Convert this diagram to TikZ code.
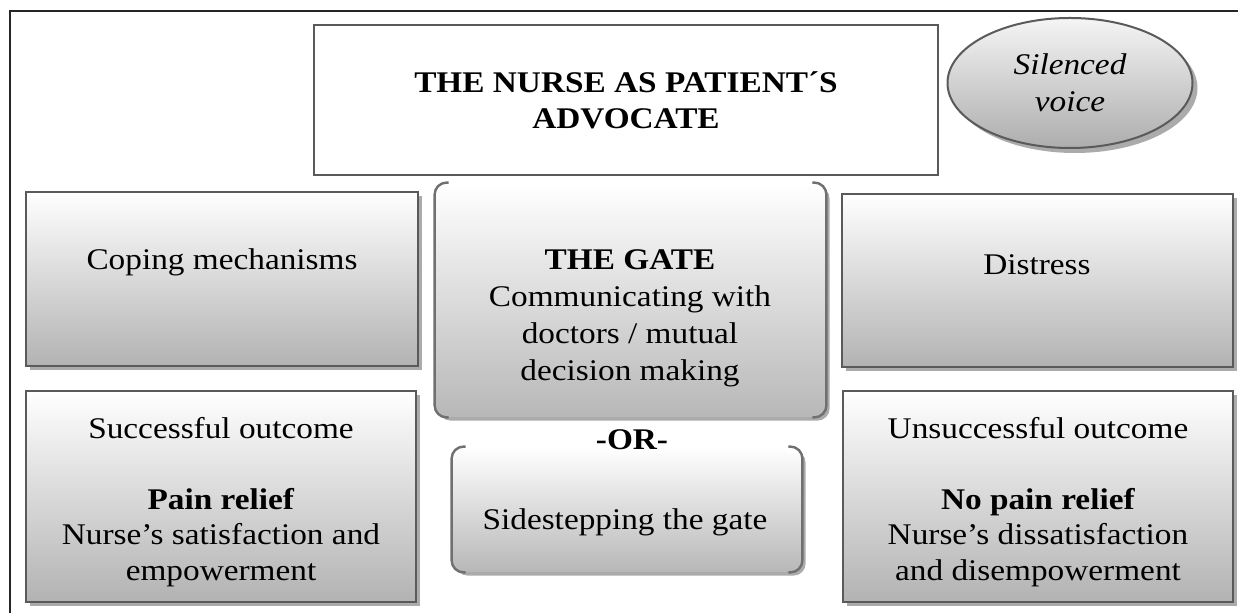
\documentclass[tikz,border=0pt]{standalone}
\usepackage{fontspec}
\setmainfont[FakeStretch=1.11]{Liberation Serif}
\usetikzlibrary{shadows,shapes.geometric,calc}
\definecolor{edgec}{HTML}{5A5A5A}
\definecolor{shdc}{HTML}{ABABAB}
\definecolor{brk}{HTML}{707070}
\begin{document}
\begin{tikzpicture}[x=0.5pt,y=-0.5pt,
  txt/.style={font=\fontsize{15pt}{17.75pt}\selectfont, align=center, inner sep=0pt},
  gbox/.style={draw=edgec, line width=1pt, top color=white, bottom color=black!30,
    drop shadow={shadow xshift=2pt,shadow yshift=-2pt,fill=shdc,opacity=1}, inner sep=0pt},
  gatebox/.style={rounded corners=6pt, top color=white, bottom color=black!28,
    drop shadow={shadow xshift=1.8pt,shadow yshift=-1.8pt,fill=shdc,opacity=1}, inner sep=0pt},
  bracket/.style={draw=brk, line width=1.2pt, rounded corners=6pt},
  titlebox/.style={draw=edgec, line width=1pt, fill=white, inner sep=0pt},
  oval/.style={ellipse, draw=edgec, line width=1pt, top color=black!4, bottom color=black!32,
    drop shadow={shadow xshift=2.5pt,shadow yshift=-2.5pt,fill=shdc,opacity=1}, inner sep=0pt},
  frame/.style={draw=black!85, line width=1pt}]
\useasboundingbox (0,0) rectangle (1238,613);
\draw[frame] (10,613) -- (10,11) -- (1238,11);

% boxes
\node[titlebox, minimum width=312pt, minimum height=75pt] (title) at (626,100) {};
\node[oval, minimum width=122.5pt, minimum height=65pt] (voice) at (1070,83) {};
\node[gbox, minimum width=196pt, minimum height=87pt] (cope) at (222,279) {};
\node[gbox, minimum width=195.5pt, minimum height=86.5pt] (dist) at (1037.5,280.5) {};
\node[gbox, minimum width=195pt, minimum height=105.5pt] (succ) at (221,496.5) {};
\node[gbox, minimum width=195pt, minimum height=105.5pt] (unsucc) at (1038,496.5) {};
\node[gatebox, minimum width=195.5pt, minimum height=117pt] (gate) at (630.5,300) {};
\node[gatebox, minimum width=175pt, minimum height=62.5pt] (side) at (627,509.5) {};

% gate brackets
\draw[bracket] ($(gate.north west)+(14,0)$) -- (gate.north west) -- (gate.south west) -- ($(gate.south west)+(14,0)$);
\draw[bracket] ($(gate.north east)+(-14,0)$) -- (gate.north east) -- (gate.south east) -- ($(gate.south east)+(-14,0)$);
\draw[bracket] ($(side.north west)+(14,0)$) -- (side.north west) -- (side.south west) -- ($(side.south west)+(14,0)$);
\draw[bracket] ($(side.north east)+(-14,0)$) -- (side.north east) -- (side.south east) -- ($(side.south east)+(-14,0)$);

% texts
\node[txt, font=\fontsize{15pt}{18pt}\selectfont\bfseries] (ttitle) at (626,100) {THE NURSE AS PATIENT´S\\ADVOCATE};
\node[txt, font=\fontsize{15pt}{18.5pt}\selectfont\itshape] (tvoice) at (1070,83) {Silenced\\voice};
\node[txt] (tcope) at (222,262) {Coping mechanisms};
\node[txt] (tdist) at (1037,265) {Distress};
\node[txt, font=\fontsize{15pt}{18.5pt}\selectfont] (tgate) at (630,318) {\textbf{THE GATE}\\Communicating with\\doctors / mutual\\decision making};
\node[txt, font=\fontsize{15pt}{17.75pt}\selectfont\bfseries] (tor) at (632,440) {-OR-};
\node[txt] (tside) at (625,522) {Sidestepping the gate};
\node[txt] (tsucc) at (221,502) {Successful outcome\\[17.75pt]\textbf{Pain relief}\\Nurse’s satisfaction and\\empowerment};
\node[txt] (tunsucc) at (1038,502) {Unsuccessful outcome\\[17.75pt]\textbf{No pain relief}\\Nurse’s dissatisfaction\\and disempowerment};
\end{tikzpicture}
\end{document}
